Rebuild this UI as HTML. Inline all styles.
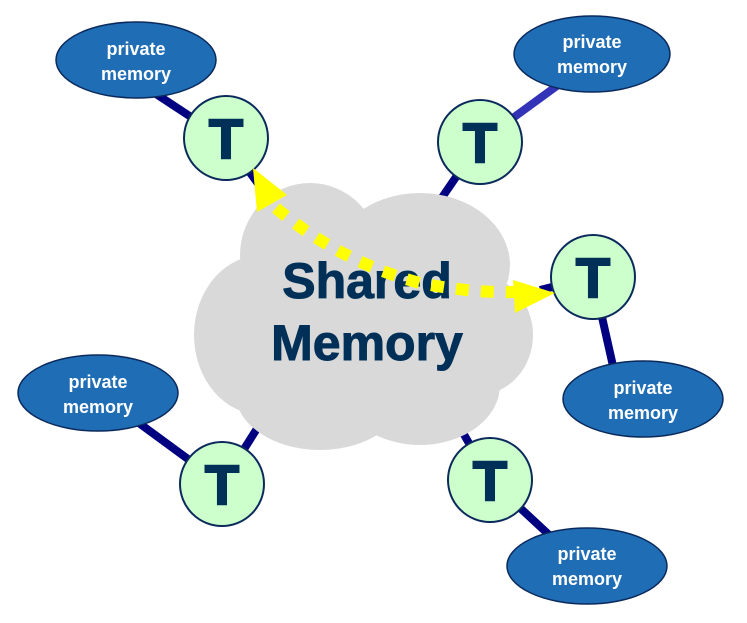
<!DOCTYPE html>
<html><head><style>body{margin:0;background:#fff}svg{display:block}</style></head><body>
<svg width="747" height="623" viewBox="0 0 747 623" xmlns="http://www.w3.org/2000/svg">
<g stroke="#000080" stroke-width="8">
<line x1="150" y1="90" x2="226" y2="140"/>
<line x1="226" y1="140" x2="270" y2="200"/>
<line x1="480" y1="142" x2="565" y2="80" stroke="#3333b8"/>
<line x1="480" y1="142" x2="430" y2="215"/>
<line x1="593" y1="277" x2="615" y2="375"/>
<line x1="540" y1="290" x2="593" y2="277"/>
<line x1="98" y1="393" x2="222" y2="484"/>
<line x1="222" y1="484" x2="275" y2="400"/>
<line x1="450" y1="410" x2="490" y2="480"/>
<line x1="490" y1="480" x2="560" y2="545"/>
</g>
<g fill="#d9d9d9">
<ellipse cx="262" cy="335" rx="68" ry="80"/>
<ellipse cx="310" cy="255" rx="70" ry="72"/>
<ellipse cx="420" cy="265" rx="90" ry="72"/>
<ellipse cx="478" cy="335" rx="55" ry="60"/>
<ellipse cx="420" cy="385" rx="80" ry="60"/>
<ellipse cx="320" cy="392" rx="85" ry="58"/>
<ellipse cx="365" cy="320" rx="130" ry="90"/>
</g>
<g fill="#003057" stroke="#003057" stroke-width="1" font-family="Liberation Sans, sans-serif" font-weight="bold" text-anchor="middle">
<text x="367" y="298" font-size="50">Shared</text>
<text x="367" y="360" font-size="50">Memory</text>
</g>
<g fill="#1f6db5" stroke="#0b2a5c" stroke-width="1.5">
<ellipse cx="136" cy="60" rx="80" ry="38"/>
<ellipse cx="592" cy="54" rx="78" ry="38"/>
<ellipse cx="98" cy="393" rx="80" ry="38"/>
<ellipse cx="643" cy="399" rx="80" ry="38"/>
<ellipse cx="587" cy="566" rx="80" ry="38"/>
</g>
<g fill="#fff" font-family="Liberation Sans, sans-serif" font-weight="bold" font-size="18" text-anchor="middle">
<text x="136" y="55">private</text><text x="136" y="80">memory</text>
<text x="592" y="48">private</text><text x="592" y="73">memory</text>
<text x="98" y="388">private</text><text x="98" y="413">memory</text>
<text x="643" y="394">private</text><text x="643" y="419">memory</text>
<text x="587" y="560">private</text><text x="587" y="585">memory</text>
</g>
<g fill="#ccffcc" stroke="#0b2a5c" stroke-width="2">
<circle cx="226" cy="138" r="42"/>
<circle cx="480" cy="142" r="42"/>
<circle cx="593" cy="277" r="42"/>
<circle cx="222" cy="484" r="42"/>
<circle cx="490" cy="480" r="42"/>
</g>
<g fill="#003057" stroke="#003057" stroke-width="2" font-family="Liberation Sans, sans-serif" font-weight="bold" font-size="56" text-anchor="middle">
<text x="226" y="158">T</text>
<text x="480" y="162">T</text>
<text x="593" y="297">T</text>
<text x="222" y="504">T</text>
<text x="490" y="500">T</text>
</g>
<path d="M276 208 Q340 262 420 283 Q470 293 515 292" fill="none" stroke="#ffff00" stroke-width="12" stroke-dasharray="13 12"/>
<polygon points="253,168 287,195 257,212" fill="#ffff00"/>
<polygon points="555,293 513,280 515,313" fill="#ffff00"/>
</svg>
</body></html>
